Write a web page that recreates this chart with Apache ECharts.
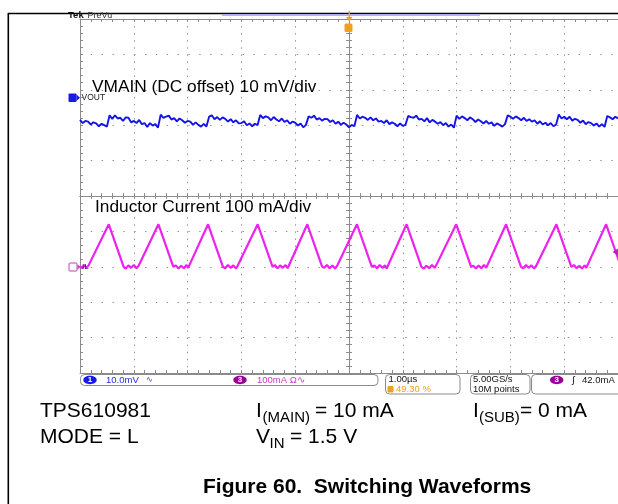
<!DOCTYPE html>
<html>
<head>
<meta charset="utf-8">
<script src="https://cdn.jsdelivr.net/npm/echarts@6/dist/echarts.min.js"></script>
<style>
html,body{margin:0;padding:0;background:#fff;}
#chart{width:618px;height:504px;}
</style>
</head>
<body>
<div id="chart"></div>
<script>
// ---------- data ----------
// horizontal: 1.00 µs/div, trigger at centre (t = 0)
// CH1 VOUT (AC, 10 mV/div), sampled every 0.05 µs from -5.00 µs
const voutStart = -5.0;
const voutStep = 0.05;
const voutMilliVolt = [
  -6.5, -7.4, -6.8, -7.0, -7.8, -7.2, -7.5, -8.3, -7.6, -8.0, -8.4,
  -5.2, -6.2, -5.2, -6.1, -5.9, -6.8, -5.8, -5.9, -7.2, -6.8, -7.4, -6.5, -7.7, -7.4, -8.5, -7.4, -8.1, -7.7, -8.7,
  -5.0, -5.9, -5.6, -5.3, -6.4, -6.0, -6.9, -6.1, -6.6, -7.3, -6.8, -7.0, -7.9, -7.2, -7.9, -8.4, -7.6, -8.4,
  -5.6, -5.2, -6.3, -5.7, -6.5, -5.8, -6.2, -7.0, -6.3, -7.2, -6.6, -7.5, -7.4, -6.9, -8.0, -7.5, -8.3, -7.6, -8.0,
  -5.1, -6.0, -5.5, -5.8, -6.6, -5.7, -6.4, -6.9, -6.1, -7.1, -6.6, -7.6, -7.0, -7.3, -8.1, -7.5, -8.6, -7.9,
  -5.5, -5.9, -5.3, -6.4, -6.0, -6.7, -6.2, -6.3, -7.1, -6.6, -7.6, -7.0, -7.9, -7.3, -7.8, -8.6, -7.9, -8.3,
  -5.1, -6.1, -5.6, -5.9, -6.5, -5.8, -6.6, -6.1, -7.0, -6.8, -7.4, -6.6, -7.7, -7.2, -7.6, -8.3, -7.5, -8.2, -7.9,
  -5.4, -5.7, -5.9, -5.3, -6.4, -6.2, -6.9, -6.0, -7.2, -6.5, -7.0, -7.6, -7.1, -8.0, -7.4, -8.4, -7.8, -8.7,
  -5.3, -6.2, -5.5, -6.0, -6.6, -5.8, -6.3, -7.1, -6.4, -6.9, -7.5, -6.8, -7.6, -7.2, -8.2, -7.5, -7.9, -8.4, -7.7,
  -5.2, -5.6, -6.2, -5.5, -6.0, -6.6, -5.9, -6.8, -6.3, -7.0, -6.6, -7.6, -6.9, -7.8, -7.3, -8.0, -7.4, -8.3, -7.8,
  -5.0, -6.1, -5.6, -6.3, -5.6, -6.7, -6.2, -6.5, -7.3, -6.7, -7.7, -7.1, -7.4, -8.1, -7.5, -8.4, -7.7, -8.5,
  -5.4, -5.8, -6.3, -5.6, -6.1
];

// CH3 inductor current IL (100 mA/div): trace vertices
const ilTimeUs = [
  -5.00, -4.96, -4.92, -4.88, -4.84, -4.806,
  -4.465, -4.188, -4.15, -4.10, -4.05, -4.00, -3.95, -3.91, -3.883,
  -3.542, -3.265, -3.22, -3.17, -3.12, -3.07, -3.02, -2.99, -2.961,
  -2.620, -2.343, -2.30, -2.25, -2.20, -2.15, -2.10, -2.07, -2.038,
  -1.697, -1.420, -1.38, -1.33, -1.28, -1.23, -1.18, -1.14, -1.116,
  -0.775, -0.498, -0.46, -0.41, -0.36, -0.31, -0.26, -0.22, -0.193,
  0.148, 0.425, 0.47, 0.52, 0.57, 0.62, 0.67, 0.70, 0.729,
  1.070, 1.347, 1.39, 1.44, 1.49, 1.54, 1.59, 1.62, 1.652,
  1.993, 2.270, 2.31, 2.36, 2.41, 2.46, 2.51, 2.55, 2.574,
  2.920, 3.197, 3.24, 3.29, 3.34, 3.39, 3.44, 3.48, 3.515,
  3.856, 4.133, 4.18, 4.23, 4.28, 4.33, 4.38, 4.41, 4.438,
  4.779, 5.056
];
const ilMilliAmp = [
  2, -4, 5, -3, 4, 0,
  120, 0, -5, 4, -3, 5, -4, 3, 0,
  120, 0, 4, -5, 3, -4, 5, -3, 0,
  120, 0, -4, 5, -3, 4, -5, 3, 0,
  120, 0, 5, -4, 4, -3, 5, -4, 0,
  120, 0, -3, 5, -4, 4, -5, 3, 0,
  120, 0, 4, -4, 5, -3, 4, -5, 0,
  120, 0, -5, 3, -4, 5, -3, 4, 0,
  120, 0, 3, -5, 4, -4, 5, -3, 0,
  120, 0, -4, 5, -3, 4, -5, 3, 0,
  120, 0, 5, -4, 3, -5, 4, -3, 0,
  120, 0
];

// channel reference positions (divisions from screen centre)
const ch1OffsetDiv = 2.8;   // VOUT marker
const ch3OffsetDiv = -2.0;  // IL marker
const ch1VoltsPerDiv = 10;  // mV/div
const ch3AmpsPerDiv = 100;  // mA/div

// ---------- build ----------
const voutData = voutMilliVolt.map((v, i) => [voutStart + i * voutStep, v]);
const ilData = ilTimeUs.map((t, i) => [t, ilMilliAmp[i]]);

const gridColor = '#8f8f8f';
const frameColor = '#8c8c8c';
const FONT = '"Liberation Sans", Arial, sans-serif';

function gratAxis(extra) {
  return Object.assign({
    type: 'value', min: -5, max: 5, interval: 1,
    axisLabel: { show: false },
    axisLine: { show: true, onZero: false, lineStyle: { color: frameColor, width: 1 } },
    axisTick: { show: true, inside: true, length: 3, lineStyle: { color: frameColor } },
    minorTick: { show: true, splitNumber: 5, length: 3, lineStyle: { color: frameColor } },
    splitLine: { show: false },
    minorSplitLine: { show: false }
  }, extra);
}

const chart = echarts.init(document.getElementById('chart'), null, { renderer: 'canvas' });

function txt(text, x, y, size, color, opts) {
  opts = opts || {};
  return {
    type: 'text', z: 100,
    style: {
      text: text, x: x, y: y,
      fontSize: size, fontFamily: opts.family || FONT,
      fontWeight: opts.weight || 'normal',
      fill: color, align: opts.align || 'left', verticalAlign: 'middle'
    }
  };
}
function box(x, y, w, h, r) {
  return { type: 'rect', z: 90, shape: { x: x, y: y, width: w, height: h, r: r },
    style: { fill: '#fff', stroke: '#8a8a8a', lineWidth: 1 } };
}
function ell(cx, cy, color, label) {
  return [
    { type: 'ellipse', z: 95, shape: { cx: cx, cy: cy, rx: 6.7, ry: 4.2 }, style: { fill: color } },
    txt(label, cx, cy, 8, '#fff', { align: 'center', weight: 'bold' })
  ];
}

const elements = [
  // page frame
  { type: 'line', z: 99, shape: { x1: 8.3, y1: 13, x2: 8.3, y2: 504 }, style: { stroke: '#000', lineWidth: 1.6 } },
  { type: 'line', z: 99, shape: { x1: 8, y1: 13.5, x2: 618, y2: 13.5 }, style: { stroke: '#000', lineWidth: 1.5 } },
  // record view bar
  { type: 'rect', z: 99, shape: { x: 222, y: 14, width: 258, height: 2 }, style: { fill: '#b0b2ee' } },
  // Tek PreVu
  txt('Tek', 68, 15.5, 9.5, '#111', { weight: 'bold' }),
  txt('PreVu', 87.5, 15.5, 9, '#333'),
  // trigger position marker
  { type: 'line', z: 101, shape: { x1: 349.3, y1: 11, x2: 349.3, y2: 20 }, style: { stroke: '#f0a020', lineWidth: 1.5 } },
  { type: 'polygon', z: 101, shape: { points: [[346, 17], [352.5, 17], [349.3, 21.5]] }, style: { fill: '#f0a020' } },
  { type: 'rect', z: 101, shape: { x: 344.5, y: 23.5, width: 8, height: 8.5, r: 1.5 }, style: { fill: '#f0a020' } },
  txt('T', 348.5, 27.8, 7, '#fff', { align: 'center', weight: 'bold' }),
  // CH1 marker
  { type: 'rect', z: 101, shape: { x: 68.5, y: 93.5, width: 8, height: 8.5, r: 1 }, style: { fill: '#1a1ae8' } },
  txt('1', 72.5, 97.8, 7.5, '#fff', { align: 'center', weight: 'bold' }),
  { type: 'polygon', z: 101, shape: { points: [[76.5, 94.5], [80, 97.8], [76.5, 101]] }, style: { fill: '#1a1ae8' } },
  txt('VOUT', 81.5, 97.8, 8.5, '#222'),
  // CH3 marker
  { type: 'rect', z: 101, shape: { x: 69, y: 263, width: 8, height: 8, r: 1 }, style: { fill: '#fff', stroke: '#c040c0', lineWidth: 1 } },
  txt('3', 73, 267.2, 7.5, '#c040c0', { align: 'center', weight: 'bold' }),
  { type: 'polygon', z: 101, shape: { points: [[77.5, 264.5], [80.5, 267], [77.5, 269.5]] }, style: { fill: '#c040c0' } },
  txt('IL', 82, 267.2, 8, '#222'),
  // trigger level marker (right edge)
  { type: 'polygon', z: 101, shape: { points: [[612.5, 252], [618, 248.5], [618, 255.5]] }, style: { fill: '#c020c0' } },
  // annotations
  txt('VMAIN (DC offset) 10 mV/div', 92, 87.3, 17.3, '#000'),
  txt('Inductor Current 100 mA/div', 95, 207, 17.3, '#000'),
  // status bar
  box(80.5, 374.5, 297.5, 11, 4),
  ...ell(90, 380, '#1a1ae8', '1'),
  txt('10.0mV', 106, 380, 9.5, '#2a2ae0'),
  txt('∿', 146, 380, 8, '#2a2ae0'),
  ...ell(240, 380, '#990099', '3'),
  txt('100mA Ω∿', 257, 380, 9.5, '#c838c8'),
  box(385.5, 374.5, 74.5, 19.5, 4),
  txt('1.00µs', 388.5, 379.5, 9.5, '#111'),
  { type: 'rect', z: 95, shape: { x: 387.5, y: 386, width: 6, height: 6.5, r: 1 }, style: { fill: '#f0a020' } },
  txt('49.30 %', 396, 389.5, 9.5, '#f0a020'),
  box(470.5, 374.5, 59.5, 19.5, 4),
  txt('5.00GS/s', 473, 379.5, 9.5, '#111'),
  txt('10M points', 473, 389.5, 9.5, '#111'),
  box(531.5, 374.5, 95, 19.5, 4),
  ...ell(556.7, 380, '#990099', '3'),
  txt('∫', 572, 380, 9.5, '#111'),
  txt('42.0mA', 582, 380, 9.5, '#111'),
  // caption block
  txt('TPS610981', 40, 411, 21, '#000'),
  txt('MODE = L', 40, 437.7, 21, '#000'),
  txt('I', 256, 411, 21, '#000'),
  txt('(MAIN)', 262.5, 418, 15, '#000'),
  txt('= 10 mA', 315, 411, 21, '#000'),
  txt('V', 256, 437.7, 21, '#000'),
  txt('IN', 269.5, 444, 15, '#000'),
  txt('= 1.5 V', 290, 437.7, 21, '#000'),
  txt('I', 473, 411, 21, '#000'),
  txt('(SUB)', 479, 418, 15, '#000'),
  txt('= 0 mA', 520, 411, 21, '#000'),
  txt('Figure 60.  Switching Waveforms', 203, 487.7, 21, '#000', { weight: 'bold' })
];

const option = {
  animation: false,
  backgroundColor: '#ffffff',
  grid: { left: 80, top: 19, width: 542, height: 354, containLabel: false },
  xAxis: [
    gratAxis({ position: 'bottom',
      splitLine: { show: true, lineStyle: { color: gridColor, width: 1, type: [1.4, 5.68] } } }),
    gratAxis({ position: 'top' }),
    gratAxis({ position: 'bottom', axisLine: { show: true, onZero: true, onZeroAxisIndex: 0, lineStyle: { color: frameColor, width: 1 } } }),
    gratAxis({ position: 'bottom', axisLine: { show: true, onZero: true, onZeroAxisIndex: 0, lineStyle: { color: frameColor, width: 1 } },
      axisTick: { show: true, inside: false, length: 3, lineStyle: { color: frameColor } } })
  ],
  yAxis: [
    gratAxis({ position: 'left',
      splitLine: { show: true, lineStyle: { color: gridColor, width: 1, type: [1.4, 9.44] } } }),
    gratAxis({ position: 'left', axisLine: { show: true, onZero: true, onZeroAxisIndex: 0, lineStyle: { color: frameColor, width: 1 } } }),
    gratAxis({ position: 'left', axisLine: { show: true, onZero: true, onZeroAxisIndex: 0, lineStyle: { color: frameColor, width: 1 } },
      axisTick: { show: true, inside: false, length: 3, lineStyle: { color: frameColor } } }),
    { type: 'value', show: false, min: -(5 + ch1OffsetDiv) * ch1VoltsPerDiv, max: (5 - ch1OffsetDiv) * ch1VoltsPerDiv,
      axisLine: { onZero: false }, splitLine: { show: false } },
    { type: 'value', show: false, min: -(5 + ch3OffsetDiv) * ch3AmpsPerDiv, max: (5 - ch3OffsetDiv) * ch3AmpsPerDiv,
      axisLine: { onZero: false }, splitLine: { show: false } }
  ],
  series: [
    { name: 'VOUT', type: 'line', xAxisIndex: 0, yAxisIndex: 3, data: voutData,
      showSymbol: false, symbol: 'none', z: 5,
      lineStyle: { color: '#1414e8', width: 1.9 } },
    { name: 'IL', type: 'line', xAxisIndex: 0, yAxisIndex: 4, data: ilData,
      showSymbol: false, symbol: 'none', z: 5,
      lineStyle: { color: '#ee22ee', width: 2.2 } }
  ],
  graphic: { elements: elements }
};
chart.setOption(option);
</script>
</body>
</html>
